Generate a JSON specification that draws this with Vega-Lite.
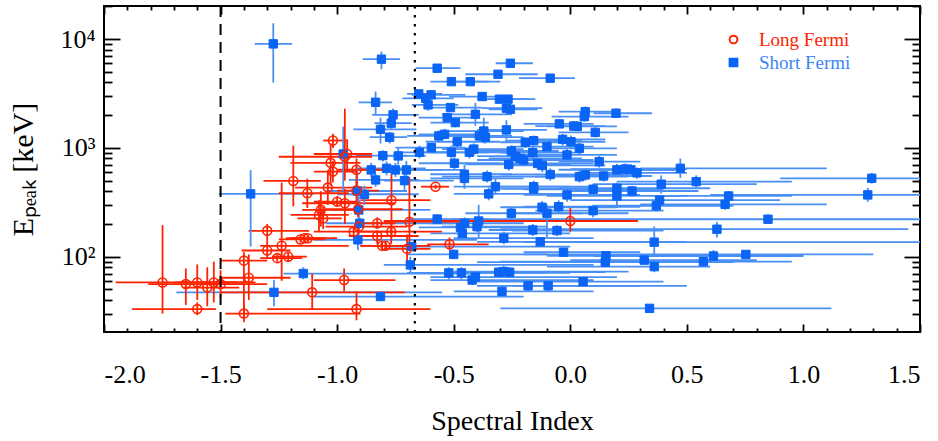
{
"$schema": "https://vega.github.io/schema/vega-lite/v6.json",
"width": 816, "height": 326,
"autosize": {"type": "none"},
"padding": {"left": 104, "top": 6, "right": 18, "bottom": 109},
"background": "white",
"config": {
 "view": {"stroke": "black", "strokeWidth": 2},
 "font": "Liberation Serif",
 "axis": {"grid": false, "domain": false, "labelFont": "Liberation Serif", "titleFont": "Liberation Serif", "labelColor": "black", "titleColor": "black", "tickColor": "black", "tickWidth": 1.8, "titleFontWeight": "normal"},
 "legend": {"labelFont": "Liberation Serif"}
},
"datasets": {"pts": [
{"type":"Short Fermi","x":-1.274,"y":9060,"xl":-1.354,"xh":-1.193,"yl":4000,"yh":14000},
{"type":"Short Fermi","x":-1.371,"y":378,"xl":-1.507,"xh":-1.10,"yl":124,"yh":625},
{"type":"Short Fermi","x":-1.271,"y":47,"xl":-1.69,"xh":-0.55,"yl":35,"yh":61},
{"type":"Short Fermi","x":-1.145,"y":70,"xl":-1.23,"xh":-0.40,"yl":62,"yh":80},
{"type":"Short Fermi","x":-0.81,"y":6550,"xl":-0.89,"xh":-0.73,"yl":5300,"yh":7700},
{"type":"Short Fermi","x":-0.835,"y":2630,"xl":-0.908,"xh":-0.764,"yl":2000,"yh":3300},
{"type":"Short Fermi","x":-0.76,"y":2015,"xl":-0.85,"xh":-0.65,"yl":1800,"yh":2300},
{"type":"Short Fermi","x":-0.768,"y":1690,"xl":-0.84,"xh":-0.68,"yl":1500,"yh":1900},
{"type":"Short Fermi","x":-0.814,"y":1485,"xl":-0.93,"xh":-0.66,"yl":1100,"yh":1900},
{"type":"Short Fermi","x":-0.775,"y":1255,"xl":-0.86,"xh":-0.70,"yl":1100,"yh":1400},
{"type":"Short Fermi","x":-0.804,"y":850,"xl":-0.92,"xh":-0.70,"yl":750,"yh":950},
{"type":"Short Fermi","x":-0.738,"y":845,"xl":-0.82,"xh":-0.62,"yl":700,"yh":1000},
{"type":"Short Fermi","x":-0.65,"y":3140,"xl":-0.70,"xh":-0.55,"yl":2900,"yh":3400},
{"type":"Short Fermi","x":-0.62,"y":2860,"xl":-0.72,"xh":-0.50,"yl":2600,"yh":3100},
{"type":"Short Fermi","x":-0.61,"y":2490,"xl":-0.68,"xh":-0.48,"yl":2200,"yh":2800},
{"type":"Short Fermi","x":-0.647,"y":912,"xl":-0.75,"xh":-0.50,"yl":800,"yh":1050},
{"type":"Short Fermi","x":-0.974,"y":880,"xl":-1.07,"xh":-0.85,"yl":400,"yh":1570},
{"type":"Short Fermi","x":-0.788,"y":650,"xl":-0.92,"xh":-0.62,"yl":560,"yh":750},
{"type":"Short Fermi","x":-0.75,"y":628,"xl":-0.86,"xh":-0.55,"yl":540,"yh":730},
{"type":"Short Fermi","x":-0.703,"y":628,"xl":-0.80,"xh":-0.45,"yl":520,"yh":760},
{"type":"Short Fermi","x":-0.835,"y":508,"xl":-0.95,"xh":-0.65,"yl":440,"yh":580},
{"type":"Short Fermi","x":-0.711,"y":500,"xl":-0.80,"xh":-0.50,"yl":400,"yh":620},
{"type":"Short Fermi","x":-0.854,"y":628,"xl":-0.96,"xh":-0.68,"yl":540,"yh":730},
{"type":"Short Fermi","x":-0.914,"y":402,"xl":-1.05,"xh":-0.70,"yl":250,"yh":650},
{"type":"Short Fermi","x":-0.883,"y":375,"xl":-1.00,"xh":-0.65,"yl":300,"yh":450},
{"type":"Short Fermi","x":-0.907,"y":269,"xl":-1.02,"xh":-0.60,"yl":200,"yh":360},
{"type":"Short Fermi","x":-0.903,"y":203,"xl":-1.05,"xh":-0.50,"yl":180,"yh":230},
{"type":"Short Fermi","x":-0.911,"y":143,"xl":-1.10,"xh":-0.40,"yl":115,"yh":175},
{"type":"Short Fermi","x":-0.686,"y":84,"xl":-0.80,"xh":0.10,"yl":70,"yh":100},
{"type":"Short Fermi","x":-0.571,"y":5410,"xl":-0.664,"xh":-0.471,"yl":5000,"yh":5900},
{"type":"Short Fermi","x":-0.257,"y":6010,"xl":-0.32,"xh":-0.16,"yl":5600,"yh":6500},
{"type":"Short Fermi","x":-0.31,"y":4760,"xl":-0.45,"xh":-0.14,"yl":4400,"yh":5100},
{"type":"Short Fermi","x":-0.086,"y":4380,"xl":-0.22,"xh":0.02,"yl":4100,"yh":4700},
{"type":"Short Fermi","x":-0.51,"y":4070,"xl":-0.60,"xh":-0.35,"yl":3800,"yh":4400},
{"type":"Short Fermi","x":-0.429,"y":4070,"xl":-0.50,"xh":-0.30,"yl":3800,"yh":4400},
{"type":"Short Fermi","x":-0.597,"y":3080,"xl":-0.68,"xh":-0.45,"yl":2800,"yh":3400},
{"type":"Short Fermi","x":-0.378,"y":2970,"xl":-0.52,"xh":-0.25,"yl":2700,"yh":3250},
{"type":"Short Fermi","x":-0.304,"y":2810,"xl":-0.40,"xh":-0.18,"yl":2600,"yh":3000},
{"type":"Short Fermi","x":-0.267,"y":2810,"xl":-0.35,"xh":-0.15,"yl":2600,"yh":3000},
{"type":"Short Fermi","x":-0.274,"y":2320,"xl":-0.38,"xh":-0.12,"yl":2100,"yh":2500},
{"type":"Short Fermi","x":-0.257,"y":2270,"xl":-0.35,"xh":-0.14,"yl":2050,"yh":2500},
{"type":"Short Fermi","x":-0.514,"y":2350,"xl":-0.60,"xh":-0.38,"yl":2150,"yh":2550},
{"type":"Short Fermi","x":-0.528,"y":1900,"xl":-0.65,"xh":-0.40,"yl":1750,"yh":2050},
{"type":"Short Fermi","x":-0.493,"y":1710,"xl":-0.60,"xh":-0.35,"yl":1550,"yh":1900},
{"type":"Short Fermi","x":-0.407,"y":2040,"xl":-0.55,"xh":-0.25,"yl":1600,"yh":2600},
{"type":"Short Fermi","x":-0.047,"y":1665,"xl":-0.20,"xh":0.10,"yl":1550,"yh":1800},
{"type":"Short Fermi","x":-0.274,"y":1465,"xl":-0.40,"xh":-0.10,"yl":1200,"yh":1800},
{"type":"Short Fermi","x":-0.371,"y":1430,"xl":-0.52,"xh":-0.20,"yl":1100,"yh":1900},
{"type":"Short Fermi","x":-0.564,"y":1290,"xl":-0.70,"xh":-0.40,"yl":1150,"yh":1450},
{"type":"Short Fermi","x":-0.539,"y":1335,"xl":-0.65,"xh":-0.38,"yl":1200,"yh":1500},
{"type":"Short Fermi","x":-0.485,"y":1140,"xl":-0.62,"xh":-0.30,"yl":1000,"yh":1300},
{"type":"Short Fermi","x":-0.39,"y":1290,"xl":-0.55,"xh":-0.25,"yl":1150,"yh":1450},
{"type":"Short Fermi","x":-0.364,"y":1255,"xl":-0.50,"xh":-0.20,"yl":1100,"yh":1400},
{"type":"Short Fermi","x":-0.193,"y":1128,"xl":-0.30,"xh":0.00,"yl":1000,"yh":1250},
{"type":"Short Fermi","x":-0.157,"y":1167,"xl":-0.28,"xh":0.05,"yl":1050,"yh":1300},
{"type":"Short Fermi","x":-0.033,"y":1200,"xl":-0.15,"xh":0.15,"yl":1050,"yh":1350},
{"type":"Short Fermi","x":-0.10,"y":1028,"xl":-0.25,"xh":0.10,"yl":900,"yh":1150},
{"type":"Short Fermi","x":-0.596,"y":1006,"xl":-0.75,"xh":-0.45,"yl":900,"yh":1100},
{"type":"Short Fermi","x":-0.414,"y":976,"xl":-0.55,"xh":-0.20,"yl":850,"yh":1100},
{"type":"Short Fermi","x":-0.433,"y":912,"xl":-0.60,"xh":-0.25,"yl":800,"yh":1050},
{"type":"Short Fermi","x":-0.51,"y":912,"xl":-0.65,"xh":-0.35,"yl":800,"yh":1050},
{"type":"Short Fermi","x":-0.253,"y":937,"xl":-0.45,"xh":-0.05,"yl":820,"yh":1060},
{"type":"Short Fermi","x":-0.236,"y":840,"xl":-0.40,"xh":0.00,"yl":740,"yh":950},
{"type":"Short Fermi","x":-0.215,"y":800,"xl":-0.35,"xh":0.05,"yl":700,"yh":900},
{"type":"Short Fermi","x":-0.20,"y":775,"xl":-0.40,"xh":0.10,"yl":680,"yh":880},
{"type":"Short Fermi","x":-0.161,"y":905,"xl":-0.30,"xh":0.05,"yl":800,"yh":1020},
{"type":"Short Fermi","x":-0.014,"y":862,"xl":-0.20,"xh":0.20,"yl":760,"yh":980},
{"type":"Short Fermi","x":-0.497,"y":723,"xl":-0.65,"xh":-0.30,"yl":640,"yh":820},
{"type":"Short Fermi","x":-0.264,"y":705,"xl":-0.45,"xh":0.00,"yl":620,"yh":800},
{"type":"Short Fermi","x":-0.14,"y":720,"xl":-0.30,"xh":0.10,"yl":630,"yh":820},
{"type":"Short Fermi","x":-0.12,"y":690,"xl":-0.25,"xh":0.15,"yl":600,"yh":780},
{"type":"Short Fermi","x":-0.086,"y":570,"xl":-0.30,"xh":0.20,"yl":500,"yh":650},
{"type":"Short Fermi","x":-0.454,"y":573,"xl":-0.60,"xh":-0.25,"yl":420,"yh":700},
{"type":"Short Fermi","x":-0.454,"y":525,"xl":-0.60,"xh":-0.20,"yl":460,"yh":600},
{"type":"Short Fermi","x":-0.357,"y":545,"xl":-0.55,"xh":-0.10,"yl":480,"yh":620},
{"type":"Short Fermi","x":-0.321,"y":440,"xl":-0.50,"xh":0.00,"yl":380,"yh":520},
{"type":"Short Fermi","x":-0.157,"y":440,"xl":-0.35,"xh":0.10,"yl":390,"yh":500},
{"type":"Short Fermi","x":-0.35,"y":378,"xl":-0.50,"xh":0.00,"yl":330,"yh":430},
{"type":"Short Fermi","x":-0.157,"y":420,"xl":-0.30,"xh":0.05,"yl":370,"yh":480},
{"type":"Short Fermi","x":-0.014,"y":370,"xl":-0.20,"xh":0.30,"yl":320,"yh":430},
{"type":"Short Fermi","x":-0.121,"y":285,"xl":-0.30,"xh":0.20,"yl":250,"yh":325},
{"type":"Short Fermi","x":-0.05,"y":288,"xl":-0.20,"xh":0.30,"yl":255,"yh":330},
{"type":"Short Fermi","x":-0.10,"y":251,"xl":-0.25,"xh":0.25,"yl":150,"yh":300},
{"type":"Short Fermi","x":-0.253,"y":251,"xl":-0.45,"xh":0.05,"yl":220,"yh":290},
{"type":"Short Fermi","x":-0.571,"y":222,"xl":-0.70,"xh":-0.35,"yl":200,"yh":245},
{"type":"Short Fermi","x":-0.453,"y":203,"xl":-0.60,"xh":-0.20,"yl":180,"yh":230},
{"type":"Short Fermi","x":-0.471,"y":186,"xl":-0.65,"xh":-0.15,"yl":165,"yh":210},
{"type":"Short Fermi","x":-0.463,"y":164,"xl":-0.60,"xh":0.00,"yl":145,"yh":185},
{"type":"Short Fermi","x":-0.393,"y":213,"xl":-0.55,"xh":0.10,"yl":150,"yh":300},
{"type":"Short Fermi","x":-0.40,"y":189,"xl":-0.55,"xh":-0.10,"yl":170,"yh":215},
{"type":"Short Fermi","x":-0.161,"y":176,"xl":-0.35,"xh":0.30,"yl":155,"yh":200},
{"type":"Short Fermi","x":-0.057,"y":174,"xl":-0.25,"xh":0.40,"yl":155,"yh":195},
{"type":"Short Fermi","x":-0.129,"y":137,"xl":-0.40,"xh":0.50,"yl":125,"yh":150},
{"type":"Short Fermi","x":-0.285,"y":148,"xl":-0.50,"xh":0.10,"yl":130,"yh":170},
{"type":"Short Fermi","x":-0.029,"y":110,"xl":-0.20,"xh":0.30,"yl":100,"yh":120},
{"type":"Short Fermi","x":-0.50,"y":105,"xl":-0.70,"xh":-0.10,"yl":95,"yh":116},
{"type":"Short Fermi","x":-0.521,"y":71,"xl":-0.70,"xh":-0.10,"yl":62,"yh":80},
{"type":"Short Fermi","x":-0.467,"y":71,"xl":-0.65,"xh":0.00,"yl":62,"yh":80},
{"type":"Short Fermi","x":-0.421,"y":61,"xl":-0.60,"xh":0.10,"yl":55,"yh":68},
{"type":"Short Fermi","x":-0.407,"y":65,"xl":-0.60,"xh":0.20,"yl":58,"yh":72},
{"type":"Short Fermi","x":-0.307,"y":72,"xl":-0.45,"xh":0.15,"yl":65,"yh":80},
{"type":"Short Fermi","x":-0.285,"y":73,"xl":-0.50,"xh":0.25,"yl":65,"yh":82},
{"type":"Short Fermi","x":-0.26,"y":72,"xl":-0.45,"xh":0.10,"yl":65,"yh":80},
{"type":"Short Fermi","x":-0.293,"y":48,"xl":-0.50,"xh":0.10,"yl":43,"yh":53},
{"type":"Short Fermi","x":-0.181,"y":54,"xl":-0.40,"xh":0.30,"yl":48,"yh":60},
{"type":"Short Fermi","x":-0.095,"y":54,"xl":-0.25,"xh":0.50,"yl":48,"yh":60},
{"type":"Short Fermi","x":0.064,"y":2160,"xl":-0.05,"xh":0.20,"yl":1950,"yh":2400},
{"type":"Short Fermi","x":0.06,"y":1940,"xl":-0.08,"xh":0.25,"yl":1750,"yh":2150},
{"type":"Short Fermi","x":0.196,"y":2085,"xl":0.10,"xh":0.35,"yl":1900,"yh":2300},
{"type":"Short Fermi","x":0.015,"y":1590,"xl":-0.15,"xh":0.15,"yl":1450,"yh":1750},
{"type":"Short Fermi","x":0.03,"y":1580,"xl":-0.10,"xh":0.20,"yl":1450,"yh":1750},
{"type":"Short Fermi","x":0.107,"y":1390,"xl":-0.05,"xh":0.25,"yl":1250,"yh":1550},
{"type":"Short Fermi","x":0.003,"y":1140,"xl":-0.10,"xh":0.15,"yl":1000,"yh":1300},
{"type":"Short Fermi","x":0.039,"y":993,"xl":-0.10,"xh":0.20,"yl":880,"yh":1120},
{"type":"Short Fermi","x":0.124,"y":748,"xl":-0.05,"xh":0.30,"yl":660,"yh":850},
{"type":"Short Fermi","x":0.039,"y":545,"xl":-0.15,"xh":0.25,"yl":480,"yh":620},
{"type":"Short Fermi","x":0.064,"y":565,"xl":-0.10,"xh":0.25,"yl":500,"yh":640},
{"type":"Short Fermi","x":0.143,"y":552,"xl":-0.10,"xh":0.35,"yl":490,"yh":620},
{"type":"Short Fermi","x":0.20,"y":630,"xl":-0.05,"xh":0.45,"yl":560,"yh":710},
{"type":"Short Fermi","x":0.236,"y":640,"xl":0.00,"xh":0.50,"yl":570,"yh":720},
{"type":"Short Fermi","x":0.26,"y":630,"xl":0.05,"xh":0.45,"yl":560,"yh":710},
{"type":"Short Fermi","x":0.286,"y":590,"xl":0.05,"xh":0.50,"yl":520,"yh":660},
{"type":"Short Fermi","x":0.472,"y":650,"xl":0.30,"xh":1.10,"yl":530,"yh":800},
{"type":"Short Fermi","x":0.54,"y":490,"xl":0.20,"xh":0.95,"yl":430,"yh":560},
{"type":"Short Fermi","x":0.39,"y":464,"xl":0.10,"xh":0.80,"yl":380,"yh":560},
{"type":"Short Fermi","x":0.383,"y":331,"xl":0.00,"xh":0.90,"yl":300,"yh":370},
{"type":"Short Fermi","x":0.369,"y":294,"xl":0.10,"xh":0.70,"yl":260,"yh":330},
{"type":"Short Fermi","x":0.20,"y":426,"xl":-0.05,"xh":0.60,"yl":380,"yh":480},
{"type":"Short Fermi","x":0.20,"y":362,"xl":-0.10,"xh":0.50,"yl":280,"yh":420},
{"type":"Short Fermi","x":0.265,"y":402,"xl":0.00,"xh":0.55,"yl":360,"yh":450},
{"type":"Short Fermi","x":0.098,"y":417,"xl":-0.20,"xh":0.40,"yl":370,"yh":470},
{"type":"Short Fermi","x":0.098,"y":265,"xl":-0.15,"xh":0.40,"yl":230,"yh":300},
{"type":"Short Fermi","x":0.153,"y":102,"xl":-0.10,"xh":0.45,"yl":92,"yh":113},
{"type":"Short Fermi","x":0.15,"y":89,"xl":-0.40,"xh":0.70,"yl":80,"yh":98},
{"type":"Short Fermi","x":0.317,"y":93,"xl":0.00,"xh":0.80,"yl":85,"yh":102},
{"type":"Short Fermi","x":0.36,"y":136,"xl":-0.20,"xh":1.55,"yl":100,"yh":190},
{"type":"Short Fermi","x":0.36,"y":81,"xl":-0.10,"xh":0.60,"yl":72,"yh":90},
{"type":"Short Fermi","x":0.055,"y":59,"xl":-0.40,"xh":0.40,"yl":55,"yh":64},
{"type":"Short Fermi","x":0.34,"y":33.5,"xl":-0.30,"xh":1.12,"yl":31,"yh":36},
{"type":"Short Fermi","x":-0.814,"y":43,"xl":-1.10,"xh":-0.20,"yl":40,"yh":47},
{"type":"Short Fermi","x":-0.68,"y":124,"xl":-0.80,"xh":0.00,"yl":115,"yh":135},
{"type":"Short Fermi","x":0.679,"y":362,"xl":0.40,"xh":0.95,"yl":330,"yh":400},
{"type":"Short Fermi","x":0.664,"y":303,"xl":0.30,"xh":1.10,"yl":270,"yh":340},
{"type":"Short Fermi","x":1.293,"y":526,"xl":0.90,"xh":1.60,"yl":470,"yh":590},
{"type":"Short Fermi","x":1.276,"y":370,"xl":0.60,"xh":1.60,"yl":320,"yh":430},
{"type":"Short Fermi","x":0.848,"y":221,"xl":-0.50,"xh":1.60,"yl":200,"yh":245},
{"type":"Short Fermi","x":0.629,"y":179,"xl":-0.30,"xh":1.45,"yl":150,"yh":210},
{"type":"Short Fermi","x":0.753,"y":105,"xl":-0.20,"xh":1.30,"yl":98,"yh":112},
{"type":"Short Fermi","x":0.614,"y":101.5,"xl":0.10,"xh":1.00,"yl":90,"yh":115},
{"type":"Short Fermi","x":0.571,"y":90,"xl":-0.30,"xh":0.95,"yl":82,"yh":98},
{"type":"Long Fermi","x":-1.749,"y":58,"xl":-1.95,"xh":-1.43,"yl":30,"yh":195},
{"type":"Long Fermi","x":-1.649,"y":56,"xl":-1.81,"xh":-1.46,"yl":36,"yh":78},
{"type":"Long Fermi","x":-1.60,"y":58,"xl":-1.70,"xh":-1.35,"yl":40,"yh":85},
{"type":"Long Fermi","x":-1.60,"y":33,"xl":-1.88,"xh":-1.52,"yl":29,"yh":38},
{"type":"Long Fermi","x":-1.557,"y":52,"xl":-1.66,"xh":-1.42,"yl":35,"yh":80},
{"type":"Long Fermi","x":-1.529,"y":58,"xl":-1.61,"xh":-1.40,"yl":38,"yh":90},
{"type":"Long Fermi","x":-1.50,"y":56,"xl":-1.58,"xh":-1.30,"yl":42,"yh":75},
{"type":"Long Fermi","x":-1.40,"y":92,"xl":-1.50,"xh":-1.30,"yl":28,"yh":110},
{"type":"Long Fermi","x":-1.379,"y":64,"xl":-1.50,"xh":-1.20,"yl":40,"yh":105},
{"type":"Long Fermi","x":-1.40,"y":30,"xl":-1.48,"xh":-0.90,"yl":25,"yh":38},
{"type":"Long Fermi","x":-1.30,"y":173,"xl":-1.38,"xh":-1.12,"yl":140,"yh":200},
{"type":"Long Fermi","x":-1.30,"y":114,"xl":-1.41,"xh":-1.20,"yl":95,"yh":140},
{"type":"Long Fermi","x":-1.257,"y":97,"xl":-1.33,"xh":-1.15,"yl":90,"yh":105},
{"type":"Long Fermi","x":-1.238,"y":126,"xl":-1.33,"xh":-0.95,"yl":60,"yh":480},
{"type":"Long Fermi","x":-1.21,"y":100,"xl":-1.28,"xh":-1.13,"yl":90,"yh":110},
{"type":"Long Fermi","x":-1.188,"y":497,"xl":-1.316,"xh":-1.07,"yl":290,"yh":1050},
{"type":"Long Fermi","x":-1.128,"y":383,"xl":-1.25,"xh":-0.95,"yl":280,"yh":520},
{"type":"Long Fermi","x":-1.157,"y":144,"xl":-1.25,"xh":-1.05,"yl":135,"yh":155},
{"type":"Long Fermi","x":-1.14,"y":148,"xl":-1.22,"xh":-1.05,"yl":138,"yh":158},
{"type":"Long Fermi","x":-1.126,"y":148,"xl":-1.20,"xh":-1.00,"yl":138,"yh":158},
{"type":"Long Fermi","x":-1.078,"y":242,"xl":-1.20,"xh":-0.95,"yl":170,"yh":330},
{"type":"Long Fermi","x":-1.07,"y":270,"xl":-1.15,"xh":-0.90,"yl":190,"yh":400},
{"type":"Long Fermi","x":-1.06,"y":225,"xl":-1.17,"xh":-0.98,"yl":180,"yh":290},
{"type":"Long Fermi","x":-1.028,"y":730,"xl":-1.20,"xh":-0.90,"yl":450,"yh":1100},
{"type":"Long Fermi","x":-1.018,"y":1170,"xl":-1.06,"xh":-0.96,"yl":1000,"yh":1350},
{"type":"Long Fermi","x":-1.018,"y":606,"xl":-1.10,"xh":-0.92,"yl":480,"yh":760},
{"type":"Long Fermi","x":-1.04,"y":432,"xl":-1.18,"xh":-0.85,"yl":300,"yh":620},
{"type":"Long Fermi","x":-1.0,"y":320,"xl":-1.10,"xh":-0.90,"yl":290,"yh":360},
{"type":"Long Fermi","x":-0.967,"y":310,"xl":-1.15,"xh":-0.75,"yl":200,"yh":420},
{"type":"Long Fermi","x":-0.967,"y":830,"xl":-1.25,"xh":-0.85,"yl":500,"yh":2300},
{"type":"Long Fermi","x":-0.957,"y":880,"xl":-1.10,"xh":-0.85,"yl":600,"yh":1200},
{"type":"Long Fermi","x":-0.97,"y":61,"xl":-1.10,"xh":-0.75,"yl":48,"yh":78},
{"type":"Long Fermi","x":-1.107,"y":47,"xl":-1.50,"xh":-0.71,"yl":33,"yh":70},
{"type":"Long Fermi","x":-0.917,"y":33,"xl":-1.30,"xh":-0.60,"yl":26,"yh":48},
{"type":"Long Fermi","x":-0.917,"y":630,"xl":-1.00,"xh":-0.80,"yl":450,"yh":800},
{"type":"Long Fermi","x":-0.917,"y":405,"xl":-1.00,"xh":-0.82,"yl":300,"yh":500},
{"type":"Long Fermi","x":-0.91,"y":273,"xl":-1.05,"xh":-0.72,"yl":230,"yh":320},
{"type":"Long Fermi","x":-0.907,"y":189,"xl":-1.05,"xh":-0.70,"yl":160,"yh":220},
{"type":"Long Fermi","x":-0.929,"y":170,"xl":-1.10,"xh":-0.75,"yl":150,"yh":190},
{"type":"Long Fermi","x":-0.828,"y":203,"xl":-0.92,"xh":-0.75,"yl":180,"yh":230},
{"type":"Long Fermi","x":-0.828,"y":155,"xl":-0.95,"xh":-0.65,"yl":130,"yh":175},
{"type":"Long Fermi","x":-0.807,"y":126,"xl":-0.90,"xh":-0.60,"yl":115,"yh":140},
{"type":"Long Fermi","x":-0.793,"y":126,"xl":-0.90,"xh":-0.65,"yl":115,"yh":140},
{"type":"Long Fermi","x":-0.768,"y":170,"xl":-0.90,"xh":-0.55,"yl":130,"yh":200},
{"type":"Long Fermi","x":-0.767,"y":331,"xl":-0.90,"xh":-0.60,"yl":150,"yh":580},
{"type":"Long Fermi","x":-0.70,"y":118,"xl":-0.80,"xh":-0.60,"yl":85,"yh":160},
{"type":"Long Fermi","x":-0.69,"y":210,"xl":-0.80,"xh":-0.45,"yl":120,"yh":540},
{"type":"Long Fermi","x":-0.578,"y":440,"xl":-0.64,"xh":-0.52,"yl":420,"yh":460},
{"type":"Long Fermi","x":0.0,"y":213,"xl":-0.80,"xh":0.29,"yl":170,"yh":280},
{"type":"Long Fermi","x":-0.518,"y":130,"xl":-0.614,"xh":-0.35,"yl":115,"yh":150}
]},
"data": {"name": "pts"},
"resolve": {"axis": {"x": "independent", "y": "independent"}},
"layer": [
 {
  "mark": {"type": "rule", "strokeWidth": 1.8, "clip": true},
  "encoding": {
   "x": {"field": "xl", "type": "quantitative", "scale": {"domain": [-2, 1.5], "nice": false, "zero": false},
     "axis": {"orient": "bottom", "values": [-2, -1.5, -1, -0.5, 0, 0.5, 1, 1.5], "labelExpr": "datum.value < 0 ? '-' + format(-datum.value, '.1f') : format(datum.value, '.1f')", "tickSize": -8, "labelPadding": 37, "labelFontSize": 26, "title": "Spectral Index", "titleFontSize": 28, "titlePadding": 20}},
   "x2": {"field": "xh"},
   "y": {"field": "y", "type": "quantitative", "scale": {"type": "log", "domain": [20.3, 20200], "nice": false},
     "axis": {"orient": "left", "values": [100, 1000, 10000], "labelExpr": "datum.value == 100 ? '10²' : datum.value == 1000 ? '10³' : '10⁴'", "tickSize": -16, "labelPadding": 25, "labelFontSize": 26, "title": "Eₚₑₐₖ [keV]", "titleFontSize": 30, "titlePadding": 21}},
   "color": {"condition": {"test": "datum.type == 'Long Fermi'", "value": "#ff2200"}, "value": "#4a8ff5"}
  }
 },
 {
  "mark": {"type": "rule", "strokeWidth": 1.8, "clip": true},
  "encoding": {
   "x": {"field": "x", "type": "quantitative",
     "axis": {"orient": "bottom", "values": [-1.9,-1.8,-1.7,-1.6,-1.4,-1.3,-1.2,-1.1,-0.9,-0.8,-0.7,-0.6,-0.4,-0.3,-0.2,-0.1,0.1,0.2,0.3,0.4,0.6,0.7,0.8,0.9,1.1,1.2,1.3,1.4], "labels": false, "tickSize": -4, "title": null}},
   "y": {"field": "yl", "type": "quantitative",
     "axis": {"orient": "left", "values": [30,40,50,60,70,80,90,200,300,400,500,600,700,800,900,2000,3000,4000,5000,6000,7000,8000,9000,20000], "labels": false, "tickSize": -8, "title": null}},
   "y2": {"field": "yh"},
   "color": {"condition": {"test": "datum.type == 'Long Fermi'", "value": "#ff2200"}, "value": "#4a8ff5"}
  }
 },
 {
  "transform": [{"filter": "datum.type == 'Short Fermi'"}],
  "mark": {"type": "point", "size": 70, "strokeWidth": 1, "opacity": 1},
  "encoding": {
   "x": {"field": "x", "type": "quantitative",
     "axis": {"orient": "top", "values": [-2, -1.5, -1, -0.5, 0, 0.5, 1, 1.5], "labels": false, "tickSize": -8, "title": null}},
   "y": {"field": "y", "type": "quantitative",
     "axis": {"orient": "right", "values": [100, 1000, 10000], "labels": false, "tickSize": -16, "title": null}},
   "shape": {"field": "type", "type": "nominal", "scale": {"domain": ["Long Fermi", "Short Fermi"], "range": ["circle", "square"]},
     "legend": {"title": null, "orient": "none", "legendX": 620, "legendY": 24, "labelFontSize": 19, "symbolSize": 60, "symbolStrokeWidth": 2, "rowPadding": 3, "labelOffset": 16, "labelColor": {"expr": "datum.label == 'Long Fermi' ? '#ff2200' : '#3d85f5'"}}},
   "fill": {"field": "type", "type": "nominal", "scale": {"domain": ["Long Fermi", "Short Fermi"], "range": ["transparent", "#0a64f5"]}},
   "stroke": {"field": "type", "type": "nominal", "scale": {"domain": ["Long Fermi", "Short Fermi"], "range": ["#ff2200", "#0a64f5"]}}
  }
 },
 {
  "transform": [{"filter": "datum.type == 'Long Fermi'"}],
  "mark": {"type": "point", "size": 80, "strokeWidth": 1.6, "opacity": 1},
  "encoding": {
   "x": {"field": "x", "type": "quantitative",
     "axis": {"orient": "top", "values": [-1.9,-1.8,-1.7,-1.6,-1.4,-1.3,-1.2,-1.1,-0.9,-0.8,-0.7,-0.6,-0.4,-0.3,-0.2,-0.1,0.1,0.2,0.3,0.4,0.6,0.7,0.8,0.9,1.1,1.2,1.3,1.4], "labels": false, "tickSize": -4, "title": null}},
   "y": {"field": "y", "type": "quantitative",
     "axis": {"orient": "right", "values": [30,40,50,60,70,80,90,200,300,400,500,600,700,800,900,2000,3000,4000,5000,6000,7000,8000,9000,20000], "labels": false, "tickSize": -8, "title": null}},
   "shape": {"field": "type", "type": "nominal", "scale": {"domain": ["Long Fermi", "Short Fermi"], "range": ["circle", "square"]}},
   "fill": {"field": "type", "type": "nominal", "scale": {"domain": ["Long Fermi", "Short Fermi"], "range": ["transparent", "#0a64f5"]}},
   "stroke": {"field": "type", "type": "nominal", "scale": {"domain": ["Long Fermi", "Short Fermi"], "range": ["#ff2200", "#0a64f5"]}}
  }
 },
 {
  "data": {"values": [{"x": -1.5}]},
  "mark": {"type": "rule", "stroke": "black", "strokeWidth": 2, "strokeDash": [11, 7]},
  "encoding": {"x": {"field": "x", "type": "quantitative", "axis": null}}
 },
 {
  "data": {"values": [{"x": -0.6667}]},
  "mark": {"type": "rule", "stroke": "black", "strokeWidth": 2.2, "strokeDash": [2.5, 6.5]},
  "encoding": {"x": {"field": "x", "type": "quantitative", "axis": null}}
 }
]
}
